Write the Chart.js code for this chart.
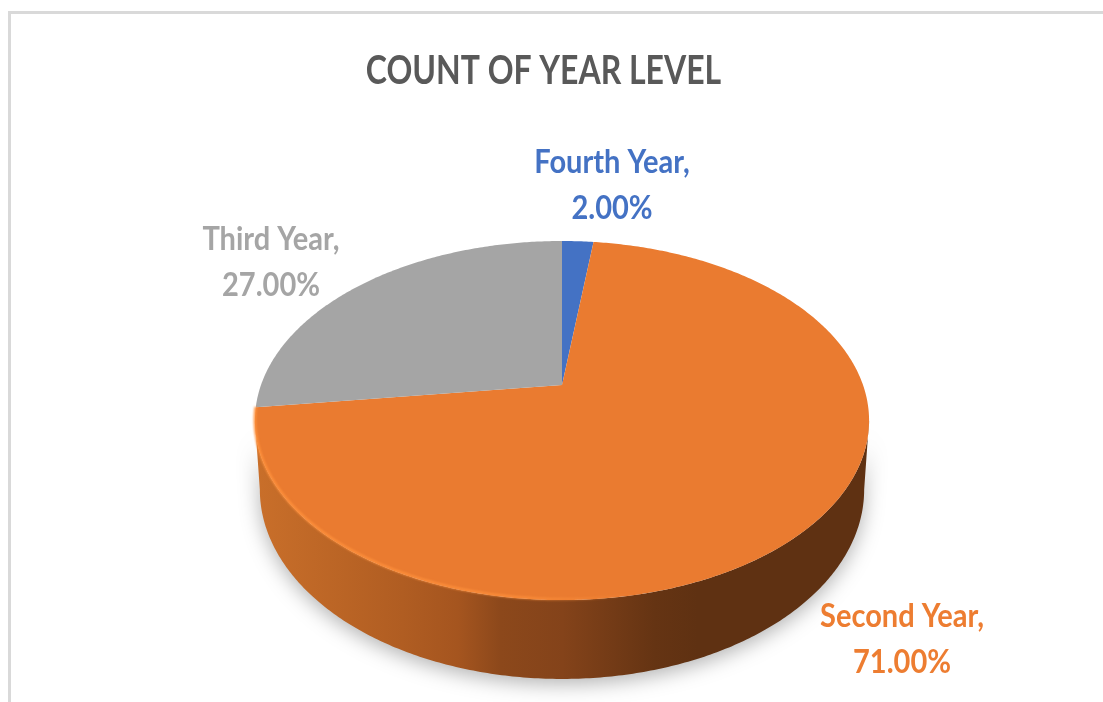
<!DOCTYPE html>
<html>
<head>
<meta charset="utf-8">
<script src="https://cdn.jsdelivr.net/npm/chart.js@4/dist/chart.umd.min.js"></script>
<style>
  html, body { margin:0; padding:0; background:#fff; overflow:hidden; }
  #frame { position:absolute; left:8px; top:11px; right:-4px; bottom:-4px; border:3px solid #d9d9d9; border-width:3px 0 0 3px; }
  canvas { position:absolute; left:0; top:0; filter:blur(0.6px); }
</style>
</head>
<body>
<div id="frame"></div>
<canvas id="c" width="1103" height="702"></canvas>
<script>
const categories = ['Fourth Year', 'Second Year', 'Third Year'];
const shares     = [2, 71, 27];
const colors     = ['#4472c4', '#ea7b30', '#a5a5a5'];
const textColors = ['#4472c4', '#ed7d31', '#a5a5a5'];
const titleText  = 'COUNT OF YEAR LEVEL';

// perspective of the pie top: apex at (CX,CY), near edge bigger than far edge
const CX = 562, CY = 385, RX = 301, RY = 172.5, K = 0.198;
const WALL_DROP = 69, WALL_SHRINK = 0.984, WALL_STRETCH = 1.055;
const LABEL_POS = [[612, 162], [902, 616], [271, 239]];

function top3d(a) {
  const w = 1 - K * Math.sin(a);
  return [CX + RX * Math.cos(a) / w, CY + RY * Math.sin(a) / w];
}
const EDGE_A = Math.asin(K);                // angle where outline is widest
const EDGE_Y = top3d(EDGE_A)[1];
function bottom3d(a) {
  const [x, y] = top3d(a);
  return [CX + (x - CX) * WALL_SHRINK, EDGE_Y + WALL_DROP + (y - EDGE_Y) * WALL_STRETCH];
}

function traceArc(ctx, fn, from, to, first) {
  const n = Math.max(2, Math.ceil(Math.abs(to - from) / 0.01));
  for (let i = 0; i <= n; i++) {
    const a = from + (to - from) * i / n;
    const p = fn(a);
    if (i === 0 && first) ctx.moveTo(p[0], p[1]); else ctx.lineTo(p[0], p[1]);
  }
}

// reference text is a narrow face: squeeze Lato a bit sideways
function squeezed(ctx, text, x, y, sx) {
  ctx.save();
  ctx.translate(x, y);
  ctx.scale(sx, 1);
  ctx.fillText(text, 0, 0);
  ctx.restore();
}

const pie3d = {
  id: 'pie3d',
  beforeDatasetDraw(chart, args) {
    const ctx = chart.ctx;
    const arcs = chart.getDatasetMeta(args.index).data;
    const wallFrom = EDGE_A, wallTo = Math.PI - EDGE_A;

    // ── Wall + drop shadow ──
    arcs.forEach(arc => {
      const from = Math.max(arc.startAngle, wallFrom), to = Math.min(arc.endAngle, wallTo);
      if (to <= from) return;
      const g = ctx.createLinearGradient(255, 0, 870, 0);
      g.addColorStop(0,    '#c96f2a');
      g.addColorStop(0.24, '#b05d22');
      g.addColorStop(0.33, '#a5551f');
      g.addColorStop(0.40, '#8c481b');
      g.addColorStop(0.50, '#84431a');
      g.addColorStop(0.65, '#653413');
      g.addColorStop(0.72, '#5f3112');
      g.addColorStop(1,    '#5f3112');
      ctx.save();
      ctx.shadowColor = 'rgba(0,0,0,0.30)';
      ctx.shadowBlur = 20;
      ctx.shadowOffsetY = 5;
      ctx.beginPath();
      traceArc(ctx, top3d, from, to, true);
      traceArc(ctx, bottom3d, to, from, false);
      ctx.closePath();
      ctx.fillStyle = g;
      ctx.fill();
      ctx.restore();
    });

    // ── Top face ──
    arcs.forEach(arc => {
      ctx.beginPath();
      ctx.moveTo(CX, CY);
      traceArc(ctx, top3d, arc.startAngle, arc.endAngle, false);
      ctx.closePath();
      ctx.fillStyle = arc.options.backgroundColor;
      ctx.fill();
    });

    // ── Lit rim on the near left edge ──
    const rim = ctx.createLinearGradient(255, 0, 640, 0);
    rim.addColorStop(0,    'rgba(255,145,60,1)');
    rim.addColorStop(0.7,  'rgba(255,145,60,0.8)');
    rim.addColorStop(1,    'rgba(255,145,60,0)');
    ctx.save();
    ctx.filter = 'blur(1px)';
    ctx.beginPath();
    traceArc(ctx, a => { const p = top3d(a); return [p[0], p[1] - 1]; }, 1.35, wallTo + 0.07, true);
    ctx.strokeStyle = rim;
    ctx.lineWidth = 2.5;
    ctx.stroke();
    ctx.restore();
    return false;
  },
  afterDraw(chart) {
    const ctx = chart.ctx;
    ctx.save();
    ctx.textAlign = 'center';
    ctx.textBaseline = 'middle';
    ctx.font = '700 41px Lato';
    ctx.fillStyle = '#595959';
    squeezed(ctx, titleText, 543.5, 71, 0.78);
    ctx.font = '700 33px Lato';
    categories.forEach((cat, i) => {
      ctx.fillStyle = textColors[i];
      const [x, y] = LABEL_POS[i];
      squeezed(ctx, cat + ',', x, y, 0.88);
      squeezed(ctx, shares[i].toFixed(2) + '%', x, y + 46, 0.88);
    });
    ctx.restore();
  }
};

new Chart(document.getElementById('c').getContext('2d'), {
  type: 'pie',
  data: { labels: categories, datasets: [{ data: shares, backgroundColor: colors, borderWidth: 0 }] },
  plugins: [pie3d],
  options: {
    responsive: false,
    animation: false,
    plugins: { legend: { display: false }, tooltip: { enabled: false }, title: { display: false } }
  }
});
</script>
</body>
</html>
